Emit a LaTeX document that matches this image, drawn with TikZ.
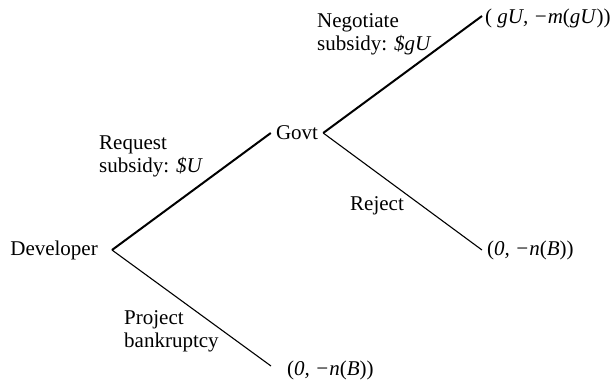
\documentclass[tikz,border=0pt]{standalone}
\usepackage{fontspec}
\setmainfont{Liberation Serif}
\usetikzlibrary{positioning}

\begin{document}
\begin{tikzpicture}[x=1pt,y=-1pt,
                    every node/.style={font=\fontsize{21}{22.5}\selectfont, inner sep=0pt},
                    move/.style={line width=1.1pt},
                    chosen/.style={line width=2pt},
                    lbl/.style={anchor=base west, align=left}]
\useasboundingbox (0,0) rectangle (610,389);

% decision points and leaves
\coordinate (dev) at (112,250);
\node[inner xsep=5pt] (govt) at (297,133) {Govt};
\coordinate (l1) at (482,16);
\coordinate (l2) at (482,250);
\coordinate (l3) at (271,366);

\node[left=14pt of dev] (devname) {Developer};

% payoffs
\node[right=3pt of l1, yshift=-2pt] (p1) {( \textit{gU, −m}(\textit{gU}))};
\node[right=5pt of l2] (p2) {(\textit{0, −n}(\textit{B}))};
\node[right=16pt of l3, yshift=-4pt] (p3) {(\textit{0, −n}(\textit{B}))};

\draw[chosen] (dev) -- (govt.west);
\draw[chosen] (govt.east) -- (l1);
\draw[move] (govt.east) -- (l2);
\draw[move] (dev) -- (l3);

% action labels (base = last line)
\node[lbl] (req) at (99,172) {Request\\subsidy: \textit{\$U}};
\node[lbl] (nego) at (317,50) {Negotiate\\subsidy: \textit{\$gU}};
\node[lbl] (rej) at (350,210) {Reject};
\node[lbl] (proj) at (124,347) {Project\\bankruptcy};

\end{tikzpicture}
\end{document}
